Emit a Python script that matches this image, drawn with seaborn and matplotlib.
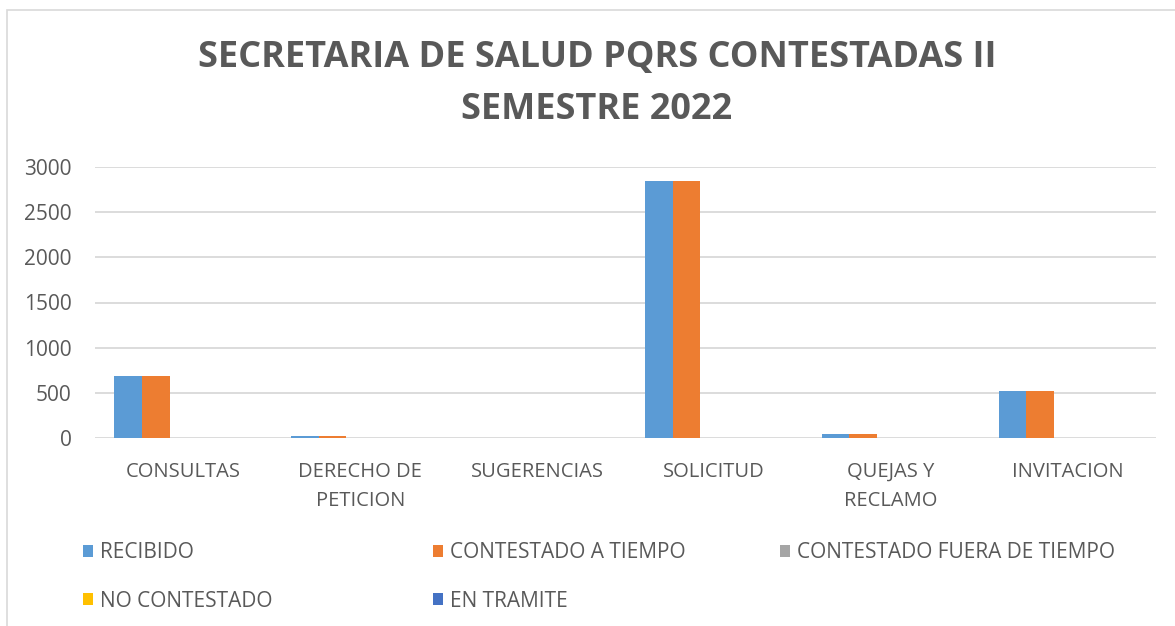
import pandas as pd
import matplotlib
matplotlib.use("Agg")
import matplotlib.pyplot as plt
import seaborn as sns
from matplotlib.patches import Rectangle

categories = ["CONSULTAS", "DERECHO DE\nPETICION", "SUGERENCIAS", "SOLICITUD",
              "QUEJAS Y\nRECLAMO", "INVITACION"]
series = ["RECIBIDO", "CONTESTADO A TIEMPO", "CONTESTADO FUERA DE TIEMPO",
          "NO CONTESTADO", "EN TRAMITE"]
recibido = [686, 20, 0, 2850, 41, 520]
contestado_a_tiempo = [686, 20, 0, 2850, 41, 520]
contestado_fuera = [0, 0, 0, 0, 0, 0]
no_contestado = [0, 0, 0, 0, 0, 0]
en_tramite = [0, 0, 0, 0, 0, 0]
colors = ["#5B9BD5", "#ED7D31", "#A5A5A5", "#FFC000", "#4472C4"]

values = [recibido, contestado_a_tiempo, contestado_fuera, no_contestado, en_tramite]
rows = []
for s, vals in zip(series, values):
    for c, v in zip(categories, vals):
        rows.append({"categoria": c, "estado": s, "valor": v})
df = pd.DataFrame(rows)

sns.set_style("white")
plt.rcParams["font.family"] = ["Open Sans", "DejaVu Sans"]
text_color = "#595959"
grid_color = "#D9D9D9"

W, H = 1175, 626
fig = plt.figure(figsize=(W / 100, H / 100), dpi=100)
ax = fig.add_axes([95 / W, 1 - 438 / H, (1156 - 95) / W, (438 - 167) / H])

sns.barplot(data=df, x="categoria", y="valor", hue="estado", order=categories,
            hue_order=series, palette=colors, width=0.78, linewidth=0,
            saturation=1, ax=ax)

handles, labels = ax.get_legend_handles_labels()
if ax.get_legend() is not None:
    ax.get_legend().remove()

ax.set_ylim(0, 3000)
ax.set_yticks(range(0, 3001, 500))
ax.yaxis.grid(True, color=grid_color, linewidth=1.3)
ax.set_axisbelow(True)
for sp in ax.spines.values():
    sp.set_visible(False)
ax.set_xlabel("")
ax.set_ylabel("")
ax.tick_params(axis="y", length=0, pad=17, labelsize=15, labelcolor=text_color)
ax.tick_params(axis="x", length=0, pad=17, labelsize=14.5, labelcolor=text_color)
for t in ax.get_xticklabels():
    t.set_linespacing(1.6)

fig.text(597 / W, 1 - 84 / H, "SECRETARIA DE SALUD PQRS CONTESTADAS II\nSEMESTRE 2022",
         ha="center", va="center", fontsize=26, fontweight="bold",
         color=text_color, linespacing=1.58)

# legend in three columns, placed like the original
col_x = [83, 433, 780]
groups = [[0, 3], [1, 4], [2]]
for x, idx in zip(col_x, groups):
    leg = fig.legend([handles[i] for i in idx], [labels[i] for i in idx],
                     loc="upper left", bbox_to_anchor=(x / W, 1 - 542 / H),
                     frameon=False, fontsize=15, handlelength=0.5,
                     handleheight=0.5, handletextpad=0.3, labelspacing=1.33,
                     borderpad=0, borderaxespad=0)
    for t in leg.get_texts():
        t.set_color(text_color)

fig.patches.append(Rectangle((7 / W, -0.2), 1.2, 1.2 - 10 / H, transform=fig.transFigure,
                             fill=False, edgecolor=grid_color, linewidth=1.2))

fig.savefig("out.png", dpi=100)
